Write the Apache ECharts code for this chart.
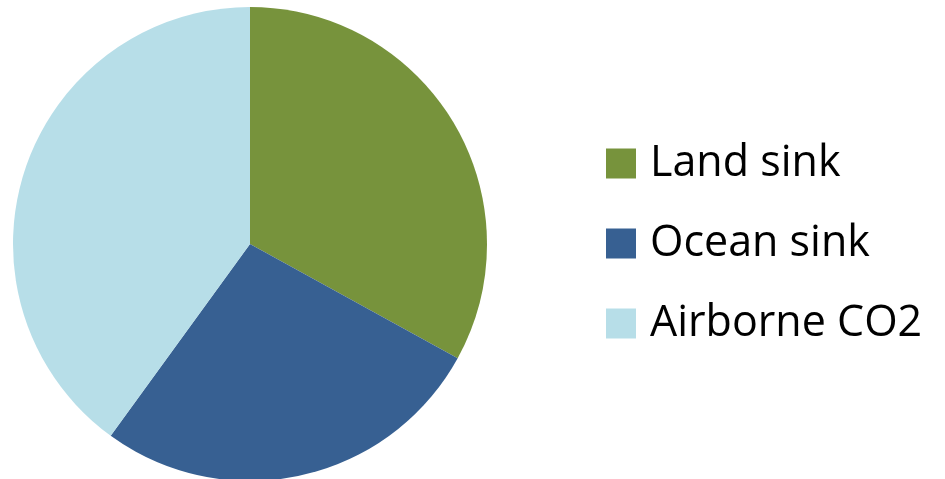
<!DOCTYPE html>
<html>
<head>
<meta charset="utf-8">
<style>
  html, body { margin: 0; padding: 0; background: #ffffff; }
  #chart { width: 945px; height: 479px; }
</style>
<script src="https://cdn.jsdelivr.net/npm/echarts@6/dist/echarts.min.js"></script>
</head>
<body>
<div id="chart"></div>
<script>
// Fate of emitted CO2 (share of total, %)
const categories = ['Land sink', 'Ocean sink', 'Airborne CO2'];
const shares = [33, 27, 40];
const colors = ['#77933C', '#376092', '#B7DEE8'];

const chart = echarts.init(document.getElementById('chart'), null, { renderer: 'canvas' });

chart.setOption({
  animation: false,
  color: colors,
  legend: {
    orient: 'vertical',
    left: 606,
    top: 142,
    padding: 0,
    icon: 'rect',
    itemWidth: 30,
    itemHeight: 30,
    itemGap: 37,
    data: categories,
    textStyle: {
      fontFamily: 'Open Sans',
      fontSize: 43,
      color: '#000000',
      padding: [0, 0, 0, 9]
    }
  },
  series: [{
    type: 'pie',
    center: [250, 244],
    radius: 237,
    startAngle: 90,
    clockwise: true,
    label: { show: false },
    labelLine: { show: false },
    itemStyle: { borderWidth: 0 },
    emphasis: { disabled: true },
    data: categories.map((name, i) => ({ name, value: shares[i] }))
  }]
});
</script>
</body>
</html>
